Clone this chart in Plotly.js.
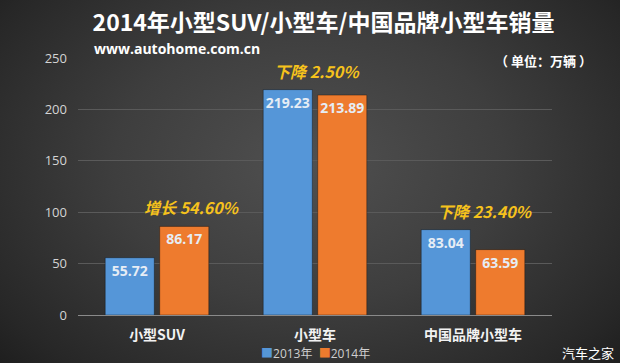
<!DOCTYPE html>
<html>
<head>
<meta charset="utf-8">
<script src="https://cdn.plot.ly/plotly-3.0.1.min.js"></script>
<style>
html,body{margin:0;padding:0;}
body{width:620px;height:363px;overflow:hidden;
background: radial-gradient(ellipse 70% 85% at 50% 45%, #505050 0%, #3e3e3e 45%, #272727 85%, #1c1c1c 100%);}
#chart{width:620px;height:363px;}
</style>
</head>
<body>
<div id="chart"></div>
<script>
var categories = ["小型SUV", "小型车", "中国品牌小型车"];
var values2013 = [55.72, 219.23, 83.04];
var values2014 = [86.17, 213.89, 63.59];
var changeLabels = ["增长 54.60%", "下降 2.50%", "下降 23.40%"];
var seriesNames = ["2013年", "2014年"];
var yTicks = [0, 50, 100, 150, 200, 250];

var FONT = "Open Sans, Noto Sans CJK SC, sans-serif";
var CJK = "Noto Sans CJK SC, sans-serif";
var colors = ["#5596d8", "#ee7b2e"];

function barTrace(name, vals, color) {
  return {
    type: "bar", name: name, x: categories, y: vals,
    marker: {color: color, line: {color: "rgba(0,0,0,0.35)", width: 1}},
    texttemplate: "<b>%{y:.2f}</b>", textposition: "inside", insidetextanchor: "end",
    textangle: 0, constraintext: "none", cliponaxis: false,
    textfont: {family: FONT, size: 14, color: "#e6edf5"},
    hoverinfo: "skip", showlegend: false
  };
}

var traces = [
  barTrace(seriesNames[0], values2013, colors[0]),
  barTrace(seriesNames[1], values2014, colors[1])
];

var xShifts = [35, 2, 12];
var annotations = categories.map(function (c, i) {
  return {
    x: c, y: Math.max(values2013[i], values2014[i]), xref: "x", yref: "y",
    text: "<b><i>" + changeLabels[i] + "</i></b>", showarrow: false,
    xshift: xShifts[i], yshift: 19, yanchor: "middle",
    font: {family: CJK, size: 16, color: "#f6c21c"}
  };
});
annotations.push({
  xref: "paper", yref: "paper", x: (92 - 78) / 474, y: (315 - 48) / 257.5,
  xanchor: "left", yanchor: "middle", showarrow: false,
  text: "<b>www.autohome.com.cn</b>",
  font: {family: FONT, size: 14, color: "#ffffff"}
});
annotations.push({
  xref: "paper", yref: "paper", x: (594 - 78) / 474, y: (315 - 60) / 257.5,
  xanchor: "right", yanchor: "middle", showarrow: false,
  text: "<b>（ 单位：万辆 ）</b>",
  font: {family: CJK, size: 13, color: "#ffffff"}
});
annotations.push({
  xref: "paper", yref: "paper", x: (616 - 78) / 474, y: (315 - 353) / 257.5,
  xanchor: "right", yanchor: "middle", showarrow: false,
  text: "汽车之家",
  font: {family: CJK, size: 13, color: "#ffffff"}
});
// legend drawn as text swatches from the series names/colours
var legendText = seriesNames.map(function (n, i) {
  return '<span style="color:' + colors[i] + '">■</span>' + n;
}).join("  ");
annotations.push({
  xref: "paper", yref: "paper", x: (315 - 78) / 474, y: (315 - 354) / 257.5,
  xanchor: "center", yanchor: "middle", showarrow: false,
  text: legendText,
  font: {family: FONT, size: 12, color: "#cfcfcf"}
});

var layout = {
  width: 620, height: 363,
  margin: {l: 78, r: 68, t: 57.5, b: 48, pad: 0, autoexpand: false},
  paper_bgcolor: "rgba(0,0,0,0)", plot_bgcolor: "rgba(0,0,0,0)",
  title: {
    text: "<b>2014年小型SUV/小型车/中国品牌小型车销量</b>",
    font: {family: CJK, size: 23, color: "#ffffff"},
    x: 323.5 / 620, xref: "container", xanchor: "center",
    y: 1 - 23 / 363, yref: "container", yanchor: "middle"
  },
  bargap: 0.31, bargroupgap: 0.1, barmode: "group",
  xaxis: {
    type: "category", showgrid: false, zeroline: false,
    showline: true, linecolor: "#8a8a8a", linewidth: 1,
    ticks: "", ticklabelstandoff: 7,
    tickfont: {family: CJK, size: 14, color: "#f2f2f2"},
    tickprefix: "<b>", ticksuffix: "</b>",
    fixedrange: true
  },
  yaxis: {
    range: [0, 250], tickvals: yTicks, ticktext: yTicks.map(String),
    showgrid: true, gridcolor: "#5a5a5a", gridwidth: 1,
    zeroline: false, showline: false, ticks: "",
    ticklabelstandoff: 10,
    tickfont: {family: FONT, size: 13, color: "#d4d4d4"},
    fixedrange: true
  },
  showlegend: false,
  annotations: annotations
};

Plotly.newPlot("chart", traces, layout, {displayModeBar: false, staticPlot: true});
</script>
</body>
</html>
